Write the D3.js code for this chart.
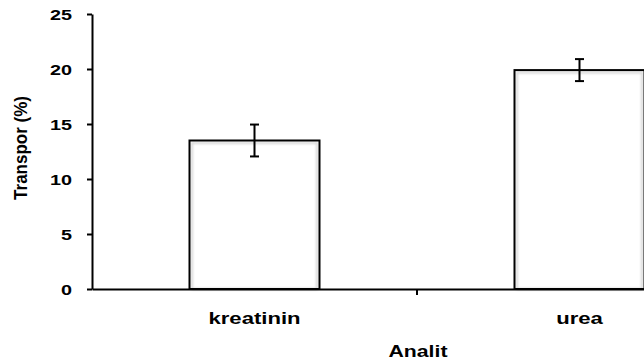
<!DOCTYPE html>
<html>
<head>
<meta charset="utf-8">
<script src="https://cdn.jsdelivr.net/npm/d3@7"></script>
<style>
  html, body { margin: 0; padding: 0; background: #fff; overflow: hidden; }
  text { font-family: "Liberation Sans", Arial, sans-serif; font-weight: bold; fill: #000; }
</style>
</head>
<body>
<svg id="chart" width="644" height="362"></svg>
<script>
const categories = ['kreatinin', 'urea'];
const values = [13.5, 19.9];
const errors = [1.45, 1.0];
const yTicks = [0, 5, 10, 15, 20, 25];

const svg = d3.select('#chart');

// plot area runs off the right edge like the original picture
const x = d3.scaleBand()
  .domain(categories)
  .range([92, 742])
  .padding(0);

const y = d3.scaleLinear()
  .domain([0, 25])
  .range([289, 14]);

const defs = svg.append('defs');
defs.append('filter')
  .attr('id', 'soft')
  .attr('x', '-10%').attr('y', '-10%').attr('width', '120%').attr('height', '120%')
  .append('feGaussianBlur')
  .attr('stdDeviation', 1);

const data = categories.map((c, i) => ({name: c, value: values[i], err: errors[i]}));

const bw = x.bandwidth() * 0.4;

// bars
const bars = svg.append('g').selectAll('.bar')
  .data(data)
  .enter().append('g')
  .attr('class', 'bar');

bars.append('rect')
  .attr('x', d => x(d.name) + (x.bandwidth() - bw) / 2)
  .attr('y', d => y(d.value))
  .attr('width', bw)
  .attr('height', d => y(0) - y(d.value))
  .attr('fill', '#fff');

// faint inner shadow
bars.append('rect')
  .attr('x', d => x(d.name) + (x.bandwidth() - bw) / 2 + 2.5)
  .attr('y', d => y(d.value) + 2.5)
  .attr('width', bw - 5)
  .attr('height', d => y(0) - y(d.value) - 2.5)
  .attr('fill', 'none')
  .attr('stroke', '#c8c8c8')
  .attr('stroke-width', 1.5)
  .attr('filter', 'url(#soft)');

bars.append('rect')
  .attr('x', d => x(d.name) + (x.bandwidth() - bw) / 2)
  .attr('y', d => y(d.value))
  .attr('width', bw)
  .attr('height', d => y(0) - y(d.value))
  .attr('fill', 'none')
  .attr('stroke', '#000')
  .attr('stroke-width', 2);

// error bars
const eb = svg.append('g').selectAll('.err')
  .data(data)
  .enter().append('g')
  .attr('class', 'err')
  .attr('stroke', '#000')
  .attr('stroke-width', 2);

eb.append('line')
  .attr('x1', d => x(d.name) + x.bandwidth() / 2)
  .attr('x2', d => x(d.name) + x.bandwidth() / 2)
  .attr('y1', d => y(d.value + d.err))
  .attr('y2', d => y(d.value - d.err));
eb.append('line')
  .attr('x1', d => x(d.name) + x.bandwidth() / 2 - 4.5)
  .attr('x2', d => x(d.name) + x.bandwidth() / 2 + 4.5)
  .attr('y1', d => y(d.value + d.err))
  .attr('y2', d => y(d.value + d.err));
eb.append('line')
  .attr('x1', d => x(d.name) + x.bandwidth() / 2 - 4.5)
  .attr('x2', d => x(d.name) + x.bandwidth() / 2 + 4.5)
  .attr('y1', d => y(d.value - d.err))
  .attr('y2', d => y(d.value - d.err));

// y axis
const yAxis = svg.append('g')
  .attr('transform', 'translate(92,0)')
  .call(d3.axisLeft(y).tickValues(yTicks).tickSize(5).tickSizeOuter(0));
yAxis.select('.domain').attr('stroke-width', 2);
yAxis.selectAll('.tick line').attr('stroke-width', 2);
yAxis.selectAll('.tick text')
  .attr('x', -15.2)
  .attr('dy', '0.36em')
  .attr('transform', 'scale(1.32,1)')
  .style('font-size', '15px')
  .style('font-family', '"Liberation Sans", Arial, sans-serif')
  .style('font-weight', 'bold');

// x axis
const xAxis = svg.append('g')
  .attr('transform', 'translate(0,289)')
  .call(d3.axisBottom(x).tickSize(0).tickSizeOuter(0));
xAxis.select('.domain').attr('stroke-width', 2);
xAxis.selectAll('.tick text')
  .attr('y', 35)
  .attr('dy', 0)
  .attr('transform', 'scale(1.3,1)')
  .style('font-size', '17px')
  .style('font-family', '"Liberation Sans", Arial, sans-serif')
  .style('font-weight', 'bold');

// boundary tick between the two categories
xAxis.append('line')
  .attr('x1', x(categories[1]))
  .attr('x2', x(categories[1]))
  .attr('y1', 0)
  .attr('y2', 6)
  .attr('stroke', '#000')
  .attr('stroke-width', 2);

// axis titles
svg.append('text')
  .attr('transform', 'translate(418,357) scale(1.25,1)')
  .attr('text-anchor', 'middle')
  .style('font-size', '17px')
  .text('Analit');

svg.append('text')
  .attr('transform', 'translate(27,148) rotate(-90) scale(1,1.12)')
  .attr('text-anchor', 'middle')
  .style('font-size', '17px')
  .text('Transpor (%)');
</script>
</body>
</html>
